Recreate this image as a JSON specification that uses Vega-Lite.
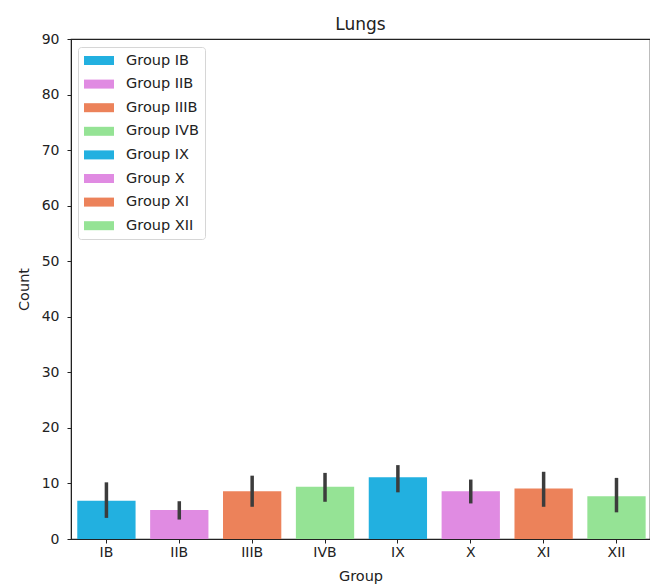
{
  "$schema": "https://vega.github.io/schema/vega-lite/v6.json",
  "autosize": {"type": "none"},
  "padding": {"left": 71, "top": 39, "right": 0, "bottom": 49},
  "width": 579,
  "height": 500,
  "background": "white",
  "config": {
    "font": "DejaVu Sans",
    "view": {"stroke": "#222", "strokeWidth": 1.2},
    "axis": {"labelFont": "DejaVu Sans", "titleFont": "DejaVu Sans", "labelColor": "#222", "titleColor": "#222", "domainColor": "#222", "tickColor": "#222", "grid": false}
  },
  "title": {"text": "Lungs", "fontSize": 17, "fontWeight": "normal", "color": "#222", "offset": -2, "font": "DejaVu Sans"},
  "data": {
    "values": [
      {"group": "IB", "label": "Group IB", "count": 6.9, "lo": 3.8, "hi": 10.2},
      {"group": "IIB", "label": "Group IIB", "count": 5.2, "lo": 3.5, "hi": 6.8},
      {"group": "IIIB", "label": "Group IIIB", "count": 8.6, "lo": 5.8, "hi": 11.4},
      {"group": "IVB", "label": "Group IVB", "count": 9.4, "lo": 6.7, "hi": 11.9},
      {"group": "IX", "label": "Group IX", "count": 11.1, "lo": 8.4, "hi": 13.3},
      {"group": "X", "label": "Group X", "count": 8.6, "lo": 6.4, "hi": 10.7},
      {"group": "XI", "label": "Group XI", "count": 9.1, "lo": 5.8, "hi": 12.1},
      {"group": "XII", "label": "Group XII", "count": 7.7, "lo": 4.8, "hi": 11.0}
    ]
  },
  "encoding": {
    "x": {
      "field": "group", "type": "nominal", "sort": null,
      "scale": {"paddingInner": 0.2, "paddingOuter": 0.073, "align": 0.59},
      "axis": {"title": "Group", "labelAngle": 0, "labelFontSize": 14, "titleFontSize": 14.5, "titleFontWeight": "normal", "tickSize": 4, "labelPadding": 2, "titlePadding": 10}
    }
  },
  "layer": [
    {
      "mark": {"type": "bar", "stroke": null},
      "encoding": {
        "y": {
          "field": "count", "type": "quantitative",
          "scale": {"domain": [0, 90], "nice": false},
          "axis": {"title": "Count", "values": [0, 10, 20, 30, 40, 50, 60, 70, 80, 90], "labelFontSize": 14, "titleFontSize": 14.5, "titleFontWeight": "normal", "tickSize": 4, "labelPadding": 8, "titlePadding": 10}
        },
        "color": {
          "field": "label", "type": "nominal", "sort": null,
          "scale": {
            "domain": ["Group IB", "Group IIB", "Group IIIB", "Group IVB", "Group IX", "Group X", "Group XI", "Group XII"],
            "range": ["#22b0e0", "#e08be2", "#ec825a", "#95e395", "#22b0e0", "#e08be2", "#ec825a", "#95e395"]
          },
          "legend": {
            "title": null,
            "orient": "none",
            "legendX": 7,
            "legendY": 8,
            "symbolType": "M-1,-0.6H3V0.6H-1Z",
            "symbolSize": 225,
            "symbolStrokeWidth": 0,
            "labelFontSize": 14.5,
            "labelColor": "#222",
            "labelOffset": 27,
            "rowPadding": 8.6,
            "padding": 6,
            "offset": 0,
            "strokeColor": "#d6d6d6",
            "fillColor": "white",
            "cornerRadius": 3
          }
        }
      }
    },
    {
      "mark": {"type": "rule", "color": "#3c3c3c", "strokeWidth": 3.5},
      "encoding": {
        "y": {"field": "lo", "type": "quantitative"},
        "y2": {"field": "hi"}
      }
    }
  ]
}
